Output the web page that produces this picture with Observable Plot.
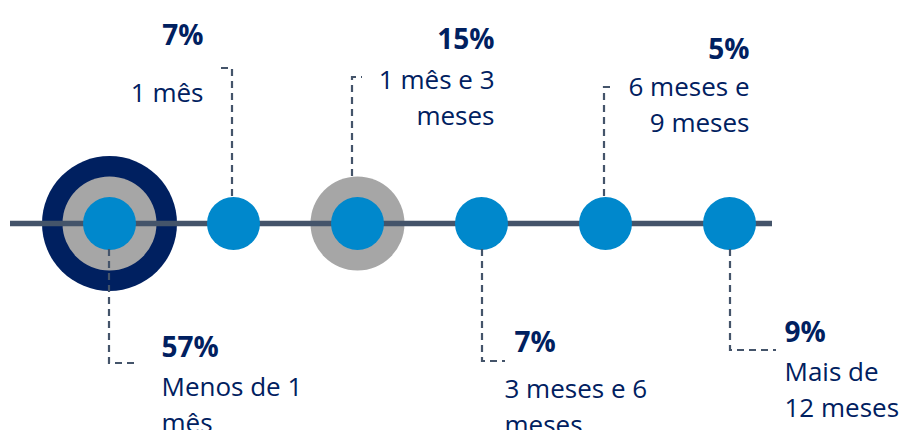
<!DOCTYPE html>
<html>
<head>
<meta charset="utf-8">
<script src="https://cdn.jsdelivr.net/npm/d3@7"></script>
<script src="https://cdn.jsdelivr.net/npm/@observablehq/plot@0.6"></script>
<style>
  html, body { margin: 0; padding: 0; background: #fff; }
  #chart svg { overflow: visible; display: block; }
</style>
</head>
<body>
<div id="chart"></div>
<script>
// ---- data ----
const categories = ["Menos de 1\nmês", "1 mês", "1 mês e 3\nmeses", "3 meses e 6\nmeses", "6 meses e\n9 meses", "Mais de\n12 meses"];
const shares = [57, 7, 15, 7, 5, 9];

// ---- styles ----
const navy = "#002060";
const gray = "#A6A6A6";
const blue = "#0088CC";
const slate = "#44546A";
const font = "Open Sans";

// ---- callout layout (pixel offsets relative to each dot; vertical: up is positive) ----
const callouts = [
  {lx: 0,  from: -26, to: -140, stub: 28,  pctDx: 52,  pctY: -133, labDx: 52,  labY: -172, anchor: "start"},
  {lx: -1, from: 27,  to: 155,  stub: -14, pctDx: -30, pctY: 179,  labDx: -30, labY: 122,  anchor: "end"},
  {lx: -5, from: 47,  to: 146,  stub: 10,  pctDx: 137, pctY: 175,  labDx: 137, labY: 135,  anchor: "end"},
  {lx: 1,  from: -26, to: -138, stub: 23,  pctDx: 33,  pctY: -128, labDx: 23,  labY: -174, anchor: "start"},
  {lx: -1, from: 27,  to: 136,  stub: 8,   pctDx: 144, pctY: 165,  labDx: 144, labY: 128,  anchor: "end"},
  {lx: 1,  from: -26, to: -127, stub: 46,  pctDx: 55,  pctY: -118, labDx: 55,  labY: -157, anchor: "start"}
];
const lineStep = 36; // px between label lines
const labelSize = 26;

// rank by share: largest gets two rings, second largest one ring
const order = d3.range(shares.length).sort((a, b) => shares[b] - shares[a]);
const rankOf = i => order.indexOf(i);

function connectors(index, scales) {
  const X = scales.x, Y = scales.y;
  const g = d3.create("svg:g")
    .attr("fill", "none")
    .attr("stroke", slate)
    .attr("stroke-width", 2.2)
    .attr("stroke-dasharray", "7,5");
  categories.forEach((c, i) => {
    const L = callouts[i];
    const cx = X(c);
    g.append("path").attr("d", `M${cx + L.lx},${Y(L.from)}V${Y(L.to)}H${cx + L.lx + L.stub}`);
  });
  return g.node();
}

const pctMarks = categories.map((c, i) => {
  const L = callouts[i];
  return Plot.text([c], {
    x: d => d, y: () => L.pctY, text: () => shares[i] + "%",
    dx: L.pctDx, textAnchor: L.anchor, lineAnchor: "bottom",
    fontSize: 28, fontWeight: 700, fill: navy, fontFamily: font
  });
});

const labelMarks = categories.map((c, i) => {
  const L = callouts[i];
  const n = c.split("\n").length;
  return Plot.text([c], {
    x: d => d, y: () => L.labY - (n - 1) * lineStep, text: d => d,
    dx: L.labDx, textAnchor: L.anchor, lineAnchor: "bottom",
    lineHeight: lineStep / labelSize,
    fontSize: labelSize, fontWeight: 400, fill: navy, fontFamily: font
  });
});

const chart = Plot.plot({
  width: 899,
  height: 430,
  marginLeft: 10,
  marginRight: 127,
  marginTop: 0,
  marginBottom: 0,
  style: {background: "#fff", fontFamily: font},
  x: {type: "point", domain: categories, range: [108, 729], padding: 0, axis: null},
  y: {domain: [-207, 223], range: [430, 0], axis: null},
  marks: [
    Plot.dot(categories.filter((c, i) => rankOf(i) === 0), {x: d => d, y: () => 0, r: 67.5, fill: navy}),
    Plot.dot(categories.filter((c, i) => rankOf(i) <= 1), {x: d => d, y: () => 0, r: 47, fill: gray}),
    Plot.ruleY([0], {stroke: slate, strokeWidth: 5.5}),
    Plot.dot(categories, {x: d => d, y: () => 0, r: 26.5, fill: blue}),
    connectors,
    ...pctMarks,
    ...labelMarks
  ]
});
document.getElementById("chart").appendChild(chart);
</script>
</body>
</html>
